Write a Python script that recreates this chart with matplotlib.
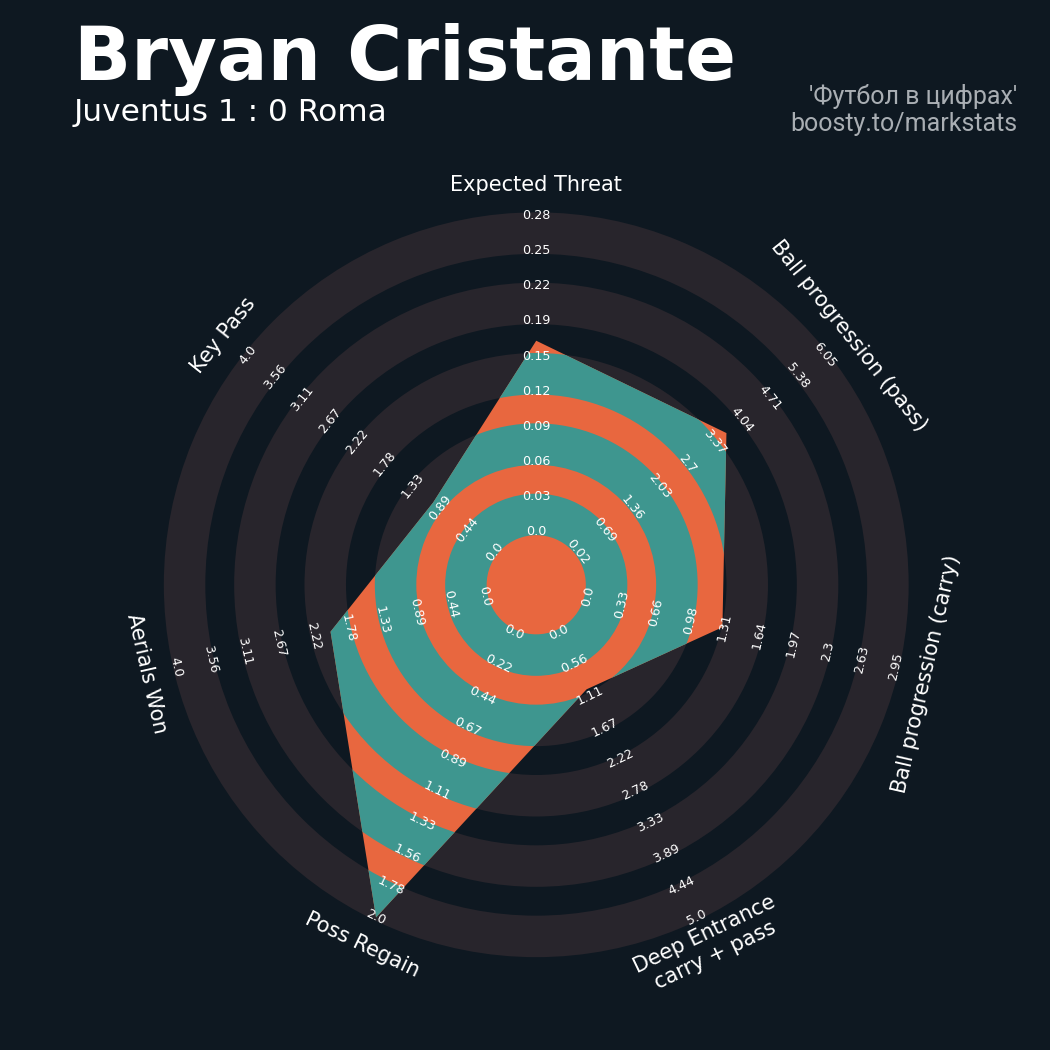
import numpy as np
import matplotlib.pyplot as plt
from matplotlib.patches import Wedge, Polygon

# radar data
params = ["Expected Threat", "Ball progression (pass)", "Ball progression (carry)",
          "Deep Entrance\ncarry + pass", "Poss Regain", "Aerials Won", "Key Pass"]
min_range = [0.0, 0.02, 0.0, 0.0, 0.0, 0.0, 0.0]
max_range = [0.278, 6.05, 2.954, 5.0, 2.0, 4.0, 4.0]
values = [0.168, 3.65, 1.29, 1.0, 2.0, 2.0, 1.0]

title = "Bryan Cristante"
subtitle = "Juventus 1 : 0 Roma"
credit = ["'Футбол в цифрах'", "boosty.to/markstats"]

BG = "#0e1821"
RING = "#28252c"
TEAL = "#3e968f"
ORANGE = "#e8673f"

NUM_RINGS = 9
CENTER_R = 1.5
RING_W = 1.0
PAD = 0.09  # rings spill a little over their edges


def ring_patches(ax, color, clip=None, zorder=1):
    for k in range(0, NUM_RINGS, 2):
        r_in = CENTER_R + k * RING_W - PAD
        r_out = CENTER_R + (k + 1) * RING_W + PAD
        w = Wedge((0, 0), r_out, 0, 360, width=r_out - r_in,
                  facecolor=color, edgecolor="none", zorder=zorder)
        ax.add_patch(w)
        if clip is not None:
            w.set_clip_path(clip)


def text_rotation(theta):
    rot = np.rad2deg(theta) - 90
    return ((rot + 90) % 180) - 90


fig = plt.figure(figsize=(10.5, 10.5), dpi=100, facecolor=BG)
ax = fig.add_axes([0.1088, 0.0412, 0.8038, 0.8038])
ax.set_xlim(-12, 12)
ax.set_ylim(-12, 12)
ax.set_aspect("equal")
ax.axis("off")

n = len(params)
theta = np.deg2rad(90 - np.arange(n) * 360 / n)
mins = np.array(min_range)
maxs = np.array(max_range)
prop = (np.array(values) - mins) / (maxs - mins)
radius = CENTER_R + prop * NUM_RINGS * RING_W

# outer rings, radar polygon, rings inside the polygon
ring_patches(ax, RING, zorder=1)
poly = Polygon(np.column_stack([radius * np.cos(theta), radius * np.sin(theta)]),
               closed=True, facecolor=ORANGE, edgecolor="none", zorder=2)
ax.add_patch(poly)
ring_patches(ax, TEAL, clip=poly, zorder=3)

# range labels
for i in range(n):
    rot = text_rotation(theta[i])
    labels = np.linspace(mins[i], maxs[i], NUM_RINGS + 1)
    for k, lab in enumerate(labels):
        r = CENTER_R + k * RING_W
        ax.text(r * np.cos(theta[i]), r * np.sin(theta[i]), str(round(float(lab), 2)),
                ha="center", va="center", rotation=rot, rotation_mode="anchor",
                fontsize=9.2, color="white", zorder=5)

# parameter names
for i in range(n):
    r = 11.37
    ax.text(r * np.cos(theta[i]), r * np.sin(theta[i]), params[i],
            ha="center", va="center", rotation=text_rotation(theta[i]),
            rotation_mode="anchor", fontsize=15, color="white", zorder=5)

fig.text(0.0705, 1 - 80 / 1050, title, fontsize=54, fontweight="bold",
         color="white", ha="left", va="baseline")
fig.text(0.0700, 1 - 121.5 / 1050, subtitle, fontsize=22.5, color="white",
         ha="left", va="baseline")
fig.text(0.9690, 1 - 104 / 1050, credit[0], fontsize=18, family="Roboto",
         color="#a9aeb3", ha="right", va="baseline")
fig.text(0.9690, 1 - 131.5 / 1050, credit[1], fontsize=18, family="Roboto",
         color="#a9aeb3", ha="right", va="baseline")

fig.savefig("out.png", dpi=100, facecolor=BG)
